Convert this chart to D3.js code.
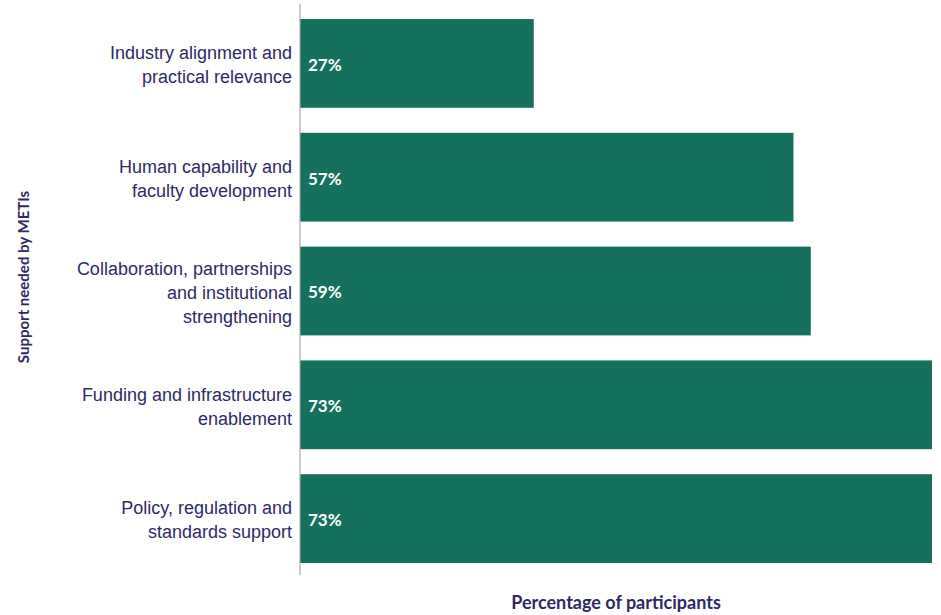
<!DOCTYPE html>
<html>
<head>
<meta charset="utf-8">
<script src="https://cdn.jsdelivr.net/npm/d3@7"></script>
<style>
  html, body { margin: 0; padding: 0; background: #ffffff; }
  svg { display: block; font-family: Lato, "Open Sans", sans-serif; }
</style>
</head>
<body>
<svg id="chart" width="941" height="615"></svg>
<script>
// Support areas (top to bottom) and share of participants naming each
const categories = [
  ["Industry alignment and", "practical relevance"],
  ["Human capability and", "faculty development"],
  ["Collaboration, partnerships", "and institutional", "strengthening"],
  ["Funding and infrastructure", "enablement"],
  ["Policy, regulation and", "standards support"]
];
const values = [27, 57, 59, 73, 73];
const valueLabels = ["27%", "57%", "59%", "73%", "73%"];
const xTitle = "Percentage of participants";
const yTitle = "Support needed by METIs";

const barColor = "#15705e";
const textColor = "#2d2a67";

const svg = d3.select("#chart");
const margin = { left: 300, right: 9, top: 6.5, bottom: 39.5 };
const W = 941, H = 615;

const keys = categories.map((c, i) => i);
const y = d3.scaleBand()
  .domain(keys)
  .range([margin.top, H - margin.bottom])
  .paddingInner(0.22)
  .paddingOuter(0.11);

const x = d3.scaleLinear()
  .domain([0, d3.max(values)])
  .range([margin.left, W - margin.right]);

// Bars
svg.append("g").selectAll("rect")
  .data(values)
  .join("rect")
  .attr("x", x(0))
  .attr("y", (d, i) => y(i))
  .attr("width", d => x(d) - x(0))
  .attr("height", y.bandwidth())
  .attr("fill", barColor);

// Value labels inside bars
svg.append("g").selectAll("text")
  .data(values)
  .join("text")
  .attr("x", x(0) + 8)
  .attr("y", (d, i) => y(i) + y.bandwidth() / 2 + 1.5)
  .attr("dy", "0.35em")
  .attr("fill", "#ffffff")
  .attr("font-size", 17)
  .attr("font-weight", 700)
  .text((d, i) => valueLabels[i]);

// Category axis with wrapped labels
const yAxis = svg.append("g")
  .attr("transform", `translate(${margin.left},0)`)
  .call(d3.axisLeft(y).tickSize(0).tickPadding(8).tickFormat(() => ""));
yAxis.select(".domain")
  .attr("stroke", "#a9a9a9")
  .attr("stroke-width", 1.2)
  .attr("d", `M0,${4}V${575}`);

const lineH = 24;
yAxis.selectAll(".tick").each(function (k) {
  const lines = categories[k];
  const t = d3.select(this).select("text")
    .attr("fill", textColor)
    .attr("font-size", 18)
    .attr("text-anchor", "end")
    .attr("x", -8)
    .attr("dy", null)
    .attr("y", 0);
  const offset = -(lines.length - 1) / 2 * lineH + 1.5;
  lines.forEach((ln, j) => {
    t.append("tspan")
      .attr("x", -8)
      .attr("y", offset + j * lineH)
      .attr("dy", "0.35em")
      .text(ln);
  });
});

// Axis titles
svg.append("text")
  .attr("x", 616)
  .attr("y", 603)
  .attr("dy", "0.35em")
  .attr("text-anchor", "middle")
  .attr("fill", textColor)
  .attr("font-size", 18)
  .attr("font-weight", 700)
  .text(xTitle);

svg.append("text")
  .attr("transform", "translate(24,277) rotate(-90)")
  .attr("dy", "0.35em")
  .attr("text-anchor", "middle")
  .attr("fill", textColor)
  .attr("font-size", 15)
  .attr("font-weight", 700)
  .text(yTitle);
</script>
</body>
</html>
